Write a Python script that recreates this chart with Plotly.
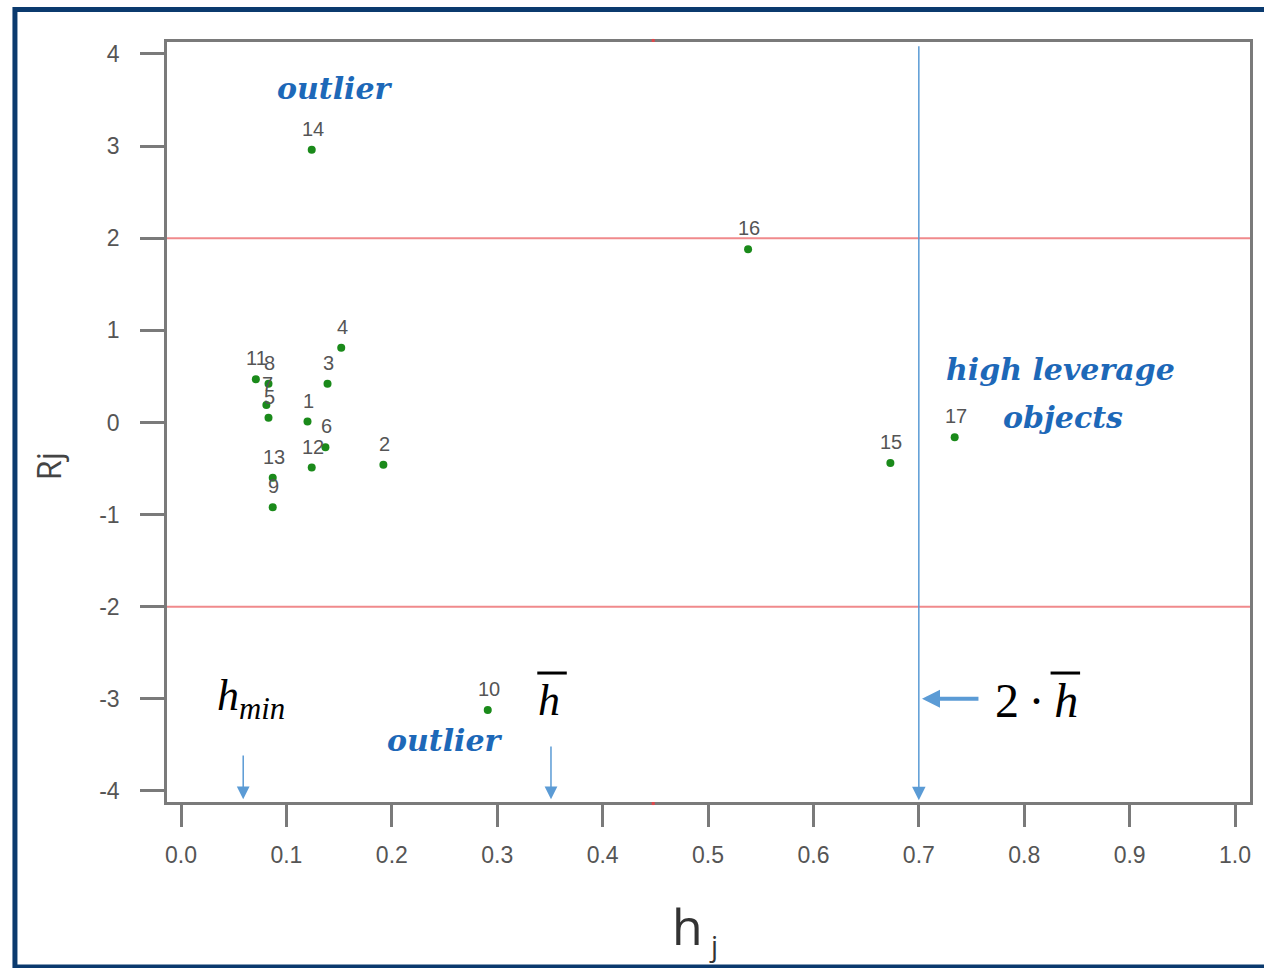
import plotly.graph_objects as go

# ---- data ----
obj_labels = ["1", "2", "3", "4", "5", "6", "7", "8", "9", "10", "11", "12", "13", "14", "15", "16", "17"]
h_values = [0.120, 0.192, 0.139, 0.152, 0.083, 0.137, 0.081, 0.083, 0.087, 0.291, 0.071, 0.124, 0.087, 0.124, 0.673, 0.538, 0.734]
r_values = [0.01, -0.46, 0.42, 0.81, 0.05, -0.27, 0.19, 0.42, -0.92, -3.12, 0.47, -0.49, -0.60, 2.96, -0.44, 1.88, -0.16]

x_ticks = [0.0, 0.1, 0.2, 0.3, 0.4, 0.5, 0.6, 0.7, 0.8, 0.9, 1.0]
x_tick_labels = ["0.0", "0.1", "0.2", "0.3", "0.4", "0.5", "0.6", "0.7", "0.8", "0.9", "1.0"]
y_ticks = [4, 3, 2, 1, 0, -1, -2, -3, -4]
y_tick_labels = ["4", "3", "2", "1", "0", "-1", "-2", "-3", "-4"]

r_limits = [2, -2]
h_min = 0.059
h_bar = 0.351
h_crit = 0.70

x_range = [-0.0133, 1.0142]
y_range = [-4.12, 4.13]

blue_txt = "#1d68b8"
blue_line = "#5b9bd5"
red_line = "#f08a8c"
axis_gray = "#7a7a7a"
tick_txt = "#555555"

fig = go.Figure()

fig.add_trace(go.Scatter(
    x=h_values, y=r_values, mode="markers",
    marker=dict(color="#1a8a1a", size=8),
    showlegend=False, hoverinfo="skip",
))

annotations = []
for lab, hx, ry in zip(obj_labels, h_values, r_values):
    annotations.append(dict(x=hx, y=ry, xref="x", yref="y", text=lab, showarrow=False,
                            yshift=21, xshift=1,
                            font=dict(family="Liberation Sans Narrow, Liberation Sans, Arial",
                                      size=20, color="#555555")))

shapes = []
for r in r_limits:
    shapes.append(dict(type="line", xref="paper", yref="y", x0=0, x1=1, y0=r, y1=r,
                       line=dict(color=red_line, width=2), layer="below"))
# tiny red marks on frame
for yp in [(1.0, 1.004), (-0.004, 0.0)]:
    shapes.append(dict(type="line", xref="x", yref="paper", x0=0.448, x1=0.448, y0=yp[0], y1=yp[1],
                       line=dict(color="#e0474c", width=3)))
# navy frame
shapes.append(dict(type="rect", xref="paper", yref="paper", x0=-0.1404, x1=1.03, y0=-0.2171, y1=1.0428,
                   line=dict(color="#0b3a6e", width=5), fillcolor="rgba(0,0,0,0)"))
# overlines of h-bar symbols
shapes.append(dict(type="line", xref="x", yref="y", x0=0.338, x1=0.366, y0=-2.72, y1=-2.72,
                   line=dict(color="black", width=3)))
shapes.append(dict(type="line", xref="x", yref="y", x0=0.825, x1=0.853, y0=-2.72, y1=-2.72,
                   line=dict(color="black", width=3)))

# vertical 2*h_bar line with arrow
annotations.append(dict(x=h_crit, y=y_range[0] + 0.02, ax=h_crit, ay=4.1, xref="x", yref="y",
                        axref="x", ayref="y", showarrow=True, arrowhead=2, arrowsize=1.8,
                        arrowwidth=1.5, arrowcolor=blue_line, text=""))
# h_min arrow
annotations.append(dict(x=h_min, y=y_range[0] + 0.03, ax=h_min, ay=-3.6, xref="x", yref="y",
                        axref="x", ayref="y", showarrow=True, arrowhead=2, arrowsize=1.7,
                        arrowwidth=1.5, arrowcolor=blue_line, text=""))
# h_bar arrow
annotations.append(dict(x=h_bar, y=y_range[0] + 0.03, ax=h_bar, ay=-3.5, xref="x", yref="y",
                        axref="x", ayref="y", showarrow=True, arrowhead=2, arrowsize=1.7,
                        arrowwidth=1.5, arrowcolor=blue_line, text=""))
# horizontal arrow to 2*h_bar
annotations.append(dict(x=h_crit + 0.003, y=-3.0, ax=0.758, ay=-3.0, xref="x", yref="y",
                        axref="x", ayref="y", showarrow=True, arrowhead=2, arrowsize=0.9,
                        arrowwidth=4, arrowcolor=blue_line, text=""))

serif_bi = dict(family="DejaVu Serif", size=30, color=blue_txt)
annotations.append(dict(x=0.146, y=3.63, xref="x", yref="y", showarrow=False,
                        text="<b><i>outlier</i></b>", font=serif_bi))
annotations.append(dict(x=0.250, y=-3.45, xref="x", yref="y", showarrow=False,
                        text="<b><i>outlier</i></b>", font=serif_bi))
annotations.append(dict(x=0.834, y=0.57, xref="x", yref="y", showarrow=False,
                        text="<b><i>high leverage</i></b>", font=serif_bi))
annotations.append(dict(x=0.837, y=0.05, xref="x", yref="y", showarrow=False,
                        text="<b><i>objects</i></b>", font=serif_bi))

serif_i = dict(family="Liberation Serif", color="black")
annotations.append(dict(x=0.066, y=-3.0, xref="x", yref="y", showarrow=False,
                        text="<i>h</i><sub><i>min</i></sub>", font=dict(serif_i, size=44)))
annotations.append(dict(x=0.349, y=-3.02, xref="x", yref="y", showarrow=False,
                        text="<i>h</i>", font=dict(serif_i, size=44)))
annotations.append(dict(x=0.812, y=-3.02, xref="x", yref="y", showarrow=False,
                        text="2\u2009\u00b7\u2009<i>h</i>", font=dict(serif_i, size=48)))

# axis titles
annotations.append(dict(x=(687 - 167) / 1083, y=(802 - 962) / 760, xref="paper", yref="paper",
                        showarrow=False, text="h", font=dict(family="Open Sans", size=50, color="#333333")))
annotations.append(dict(x=(713 - 167) / 1083, y=(802 - 966) / 760, xref="paper", yref="paper",
                        showarrow=False, text="j", font=dict(family="Open Sans", size=28, color="#333333")))
annotations.append(dict(x=(24 - 167) / 1083, y=(802 - 466) / 760, xref="paper", yref="paper",
                        showarrow=False, text="Rj", textangle=-90,
                        font=dict(family="Open Sans", size=33, color="#444444")))

fig.update_layout(
    width=1264, height=968,
    margin=dict(l=167, r=14, t=42, b=166),
    paper_bgcolor="white", plot_bgcolor="white",
    shapes=shapes, annotations=annotations,
    xaxis=dict(range=x_range, tickvals=x_ticks, ticktext=x_tick_labels,
               showgrid=False, zeroline=False, showline=True, mirror=True,
               linecolor=axis_gray, linewidth=2.5, ticks="outside", ticklen=22,
               tickwidth=2.5, tickcolor=axis_gray, ticklabelstandoff=9,
               tickfont=dict(family="Liberation Sans", size=23, color=tick_txt)),
    yaxis=dict(range=y_range, tickvals=y_ticks, ticktext=y_tick_labels,
               showgrid=False, zeroline=False, showline=True, mirror=True,
               linecolor=axis_gray, linewidth=2.5, ticks="outside", ticklen=24,
               tickwidth=2.5, tickcolor=axis_gray, ticklabelstandoff=16,
               tickfont=dict(family="Liberation Sans", size=23, color=tick_txt)),
)

fig.write_html("out.html")
